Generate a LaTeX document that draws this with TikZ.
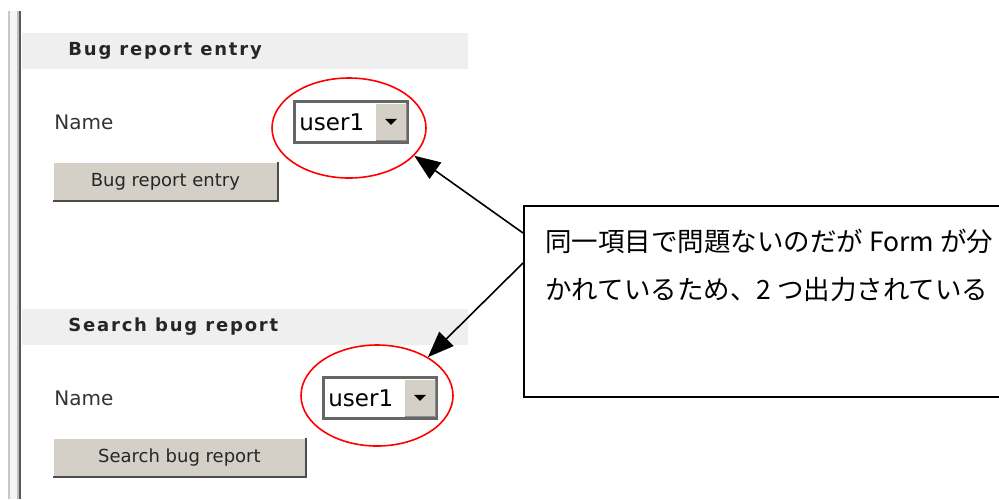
\documentclass[tikz,border=0pt]{standalone}
\usepackage{fontspec}
\usetikzlibrary{arrows.meta,shapes.geometric}
\newfontfamily\uifont{DejaVu Sans}
\newfontfamily\headfont{DejaVu Sans}[LetterSpace=10]
\newfontfamily\jpfont{Noto Sans CJK JP}
\definecolor{btnface}{HTML}{D4D0C8}
\definecolor{bandgray}{HTML}{EFEFEF}
\definecolor{inkgray}{HTML}{333333}
\tikzstyle{band}=[fill=bandgray]
\tikzstyle{title}=[anchor=west,inner sep=0pt,text=black!85,font=\headfont\bfseries\fontsize{9pt}{11pt}\selectfont]
\tikzstyle{field label}=[anchor=west,inner sep=0pt,text=inkgray,font=\uifont\fontsize{10pt}{12pt}\selectfont]
\tikzstyle{combo}=[anchor=north west,draw=black!60,fill=white,line width=1.4pt,minimum width=56.5pt,minimum height=20.5pt,inner sep=0pt]
\tikzstyle{dropbtn}=[anchor=east,fill=btnface,minimum width=15pt,minimum height=18pt,inner sep=0pt]
\tikzstyle{btn}=[anchor=north west,fill=btnface,minimum height=19pt,inner sep=0pt,text=black!85,font=\uifont\fontsize{9pt}{11pt}\selectfont]
\tikzstyle{ring}=[ellipse,draw=red,line width=0.8pt,inner sep=0pt]
\tikzstyle{note}=[anchor=north west,draw=black,line width=1pt,fill=white,inner sep=0pt]
\tikzstyle{pointer}=[draw,line width=0.8pt,-{Triangle[length=13pt,width=10pt]}]

\begin{document}
\begin{tikzpicture}[x=0.5pt,y=-0.5pt]
    \fill[white] (0,0) rectangle (999,499);
    \clip (0,0) rectangle (999,499);
    % frame rule on the left
    \fill[black!22] (8,11) rectangle (10,499);
    \fill[black!4] (10,11) rectangle (17,499);
    \fill[black!25] (17,11) rectangle (18.5,499);
    \fill[black!65] (18.5,11) rectangle (21,499);

    % the two forms
    \foreach \dy/\nm/\title/\btn/\cx/\bw in {0/a/Bug report entry/Bug report entry/293/112, 276/b/Search bug report/Search bug report/322/126}
    {
        \fill[band] (22,33+\dy) rectangle (468,69+\dy);
        \node[title] (head\nm) at (68,51+\dy) {\title};
        \node[field label] (name\nm) at (54,122+\dy) {Name};
        \node[combo] (combo\nm) at (\cx,100+\dy) {};
        \node[field label,text=black,font=\uifont\fontsize{11.5pt}{13pt}\selectfont] (user\nm) at ([xshift=3pt]combo\nm.west) {user1};
        \node[dropbtn] (drop\nm) at ([xshift=-1.2pt]combo\nm.east) {};
        \draw[black!45,line width=0.6pt] (drop\nm.south west) -| (drop\nm.north east);
        \fill ([xshift=-3pt,yshift=1.5pt]drop\nm.center) -- ++(6pt,0) -- ++(-3pt,-3pt) -- cycle;
        \node[btn,minimum width=\bw pt] (btn\nm) at (53,162+\dy) {\btn};
        \draw[white,line width=0.6pt] (btn\nm.south west) |- (btn\nm.north east);
        \draw[black!70,line width=1pt] (btn\nm.south west) -| (btn\nm.north east);
    }

    % red marks round the two selects
    \foreach \pos/\name/\w/\h in {{(349,128)/ringa/77/50}, {(377,395.5)/ringb/76/50.5}}
        \node[ring,minimum width=\w pt,minimum height=\h pt] (\name) at \pos {};

    % comment box
    \node[note,minimum width=250pt,minimum height=95.5pt] (note) at (523,205) {};
    \node[anchor=west,inner sep=0pt,align=left,font=\jpfont\fontsize{13.25pt}{24pt}\selectfont] (memo) at (545,265)
        {同一項目で問題ないのだが Form が分\\かれているため、2 つ出力されている};
    \coordinate (froma) at (523,233);
    \coordinate (fromb) at (523,263);
    \draw[pointer] (froma) -- (ringa.-23);
    \draw[pointer] (fromb) -- (ringb.37);
\end{tikzpicture}
\end{document}
